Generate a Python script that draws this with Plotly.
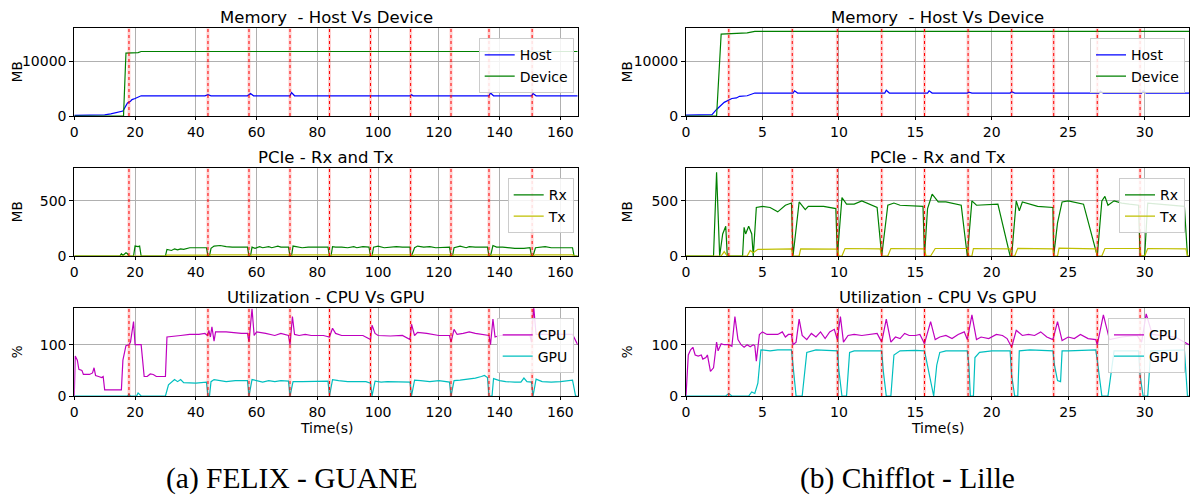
import plotly.graph_objects as go

# ---------------- DATA ----------------
# (a) FELIX - GUANE
a_host_t = [0, 5, 10, 12, 14, 16, 16.5, 17, 17.5, 18.5, 19, 20, 21, 22, 43, 44, 45, 57, 58, 59, 71, 71.5, 72.5,
            83.5, 84, 84.5, 97, 97.5, 98, 110.5, 111, 111.5, 136.5, 137, 138, 150.5, 151, 152, 165.7]
a_host = [100, 150, 200, 400, 650, 900, 1400, 2000, 2400, 2700, 3000, 3200, 3500, 3700, 3700, 3900, 3700, 3700,
          4100, 3700, 3700, 4300, 3700, 3700, 3800, 3700, 3700, 3800, 3700, 3700, 3900, 3700, 3700, 4200, 3700,
          3700, 4100, 3700, 3700]
a_dev_t = [0, 16.2, 17, 21, 22, 165.7]
a_dev = [0, 0, 11500, 11600, 11800, 11800]

a_rx_t = [0, 15, 15.5, 16, 17, 17.5, 18, 19.5, 20, 21, 21.5, 22, 30, 30.5, 32, 33, 34, 35, 36, 37, 38, 43.5, 44,
          44.5, 45, 46, 48, 50, 52, 57, 57.5, 58, 58.5, 59.5, 61, 62, 64, 65, 66, 67, 68, 70.5, 71,
          71.5, 72, 73, 75, 77, 80, 83.5, 84, 84.5, 85, 86, 88, 90, 92, 93, 95, 97, 97.5,
          98, 98.5, 100, 102, 104, 106, 108, 110.5, 110.7, 111, 112, 113, 115, 117, 119, 121, 123.5, 124,
          124.5, 125, 127, 129, 130, 132, 134, 136, 136.5, 137, 137.8, 139, 141, 143, 145, 148, 150, 150.5,
          151, 151.8, 153, 155, 157, 160, 164, 164.5, 165.7]
a_rx = [0, 0, 20, 5, 30, 20, 0, 0, 90, 85, 90, 0, 0, 60, 50, 65, 55, 65, 60, 70, 75, 75, 0,
        0, 70, 90, 95, 85, 80, 80, 0, 0, 80, 70, 85, 75, 85, 75, 80, 90, 80, 80, 0,
        0, 90, 85, 75, 80, 80, 80, 0, 0, 85, 80, 80, 75, 85, 75, 85, 80, 0,
        0, 80, 90, 75, 80, 85, 80, 80, 0, 0, 75, 90, 80, 85, 75, 80, 80, 0,
        0, 75, 90, 75, 85, 80, 80, 80, 0, 0, 95, 80, 80, 75, 70, 70, 75, 0,
        0, 75, 80, 85, 75, 75, 75, 0, 0]
a_tx_t = [0, 30, 30.5, 43.5, 44, 45, 57, 57.5, 58.5, 70.5, 71, 72, 83.5, 84, 85, 97, 97.5, 98.5, 110.5, 111, 112,
          123.5, 124, 125, 136, 136.5, 137.8, 150, 150.5, 151.8, 164, 164.5, 165.7]
a_tx = [0, 0, 8, 8, 0, 10, 10, 0, 10, 10, 0, 10, 10, 0, 10, 10, 0, 10, 10, 0, 10,
        10, 0, 10, 10, 0, 10, 10, 0, 10, 10, 0, 0]

a_cpu_t = [0, 0.3, 1, 1.5, 2.5, 3, 5, 6, 6.5, 7, 8, 9, 9.5, 10, 15.5, 16, 17, 18, 18.5, 19.5, 20, 22, 23, 24, 25,
           26, 27, 30, 30.5, 33, 35, 38, 41, 43, 43.8, 44.3, 44.8, 45.3, 46, 46.5, 50, 55, 57, 57.5, 58.5, 59.2,
           60, 63, 66, 68, 70.5, 71, 71.8, 72.5, 74, 76, 78, 82, 84, 85, 86, 88, 92, 95, 97.5, 98, 99, 100,
           104, 108, 110.5, 111, 112, 113, 116, 120, 123.5, 124, 125, 126, 128, 130, 132, 134, 136.5, 137,
           137.8, 138.5, 140, 145, 150, 150.5, 151.2, 152, 155, 160, 164, 165.7]
a_cpu = [0, 78, 70, 52, 50, 42, 42, 45, 55, 40, 38, 36, 38, 12, 12, 70, 98, 100, 105, 145, 100, 100, 38, 38, 43,
         42, 38, 38, 115, 116, 118, 120, 120, 122, 118, 128, 115, 135, 107, 125, 125, 122, 122, 106, 170, 118,
         125, 122, 118, 122, 118, 100, 155, 120, 118, 120, 118, 118, 115, 132, 122, 118, 118, 118, 110, 138, 122,
         118, 117, 118, 110, 140, 118, 124, 122, 118, 118, 105, 130, 120, 122, 125, 122, 120, 118, 100,
         150, 115, 118, 118, 118, 105, 175, 120, 120, 120, 120, 100]
a_gpu_t = [0, 17.5, 18, 18.5, 20.5, 21, 22, 30, 31, 33, 34, 35, 36, 38, 40, 43.5, 44, 44.5, 45, 46, 48, 50, 53,
           57, 57.5, 58.5, 60, 62, 64, 66, 68, 70.5, 71, 72, 75, 78, 80, 83.5, 84, 85, 87, 90, 93, 96, 97.5,
           98, 99, 101, 103, 105, 108, 110.5, 111, 112, 114, 117, 120, 123.5, 124, 125, 127, 130, 132, 134,
           135, 136, 136.5, 137.5, 138, 140, 142, 145, 147, 148, 149, 150.5, 151, 152, 154, 157, 160, 164,
           165, 165.7]
a_gpu = [0, 0, 3, 0, 0, 6, 0, 0, 22, 32, 28, 32, 26, 26, 25, 27, 0, 0, 28, 32, 30, 28, 30,
         30, 0, 32, 30, 27, 30, 28, 30, 29, 0, 28, 28, 28, 29, 29, 0, 32, 30, 28, 28, 28, 25,
         0, 29, 27, 28, 28, 28, 27, 0, 31, 30, 28, 30, 27, 0, 30, 31, 33, 35, 38,
         40, 36, 0, 0, 34, 30, 28, 27, 27, 35, 28, 27, 0, 33, 28, 27, 28, 31,
         0, 0]
a_events = [18, 44, 57.5, 71, 84, 97.5, 110.7, 124, 136.5, 150.7]

# (b) Chifflot - Lille
b_host_t = [0, 1.7, 2.0, 2.5, 3.0, 3.3, 3.5, 4.0, 4.5, 7.0, 7.1, 7.3, 13.0, 13.1, 13.3, 15.8, 15.9, 16.1, 18.4, 18.5,
            18.7, 21.2, 21.3, 21.5, 27.0, 27.1, 27.3, 29.8, 29.9, 30.1, 32.9]
b_host = [150, 250, 1200, 2500, 3200, 3300, 3600, 3700, 4200, 4200, 4600, 4200, 4200, 4700, 4200, 4200, 4600,
          4200, 4200, 4350, 4200, 4200, 4450, 4200, 4200, 4550, 4200, 4200, 4600, 4200, 4200]
b_dev_t = [0, 2.0, 2.3, 3.0, 4.0, 4.5, 32.9]
b_dev = [0, 0, 15000, 15100, 15200, 15500, 15500]

b_rx_t = [0, 1.8, 2.0, 2.2, 2.4, 2.6, 2.7, 3.7, 3.8, 3.9, 4.1, 4.3, 4.4, 4.6, 5.0, 5.5, 6.0, 6.5, 6.9, 7.0,
          7.4, 7.8, 8.0, 9.0, 9.8, 9.9, 10.2, 10.5, 11.0, 11.5, 12.5, 12.8, 13.2, 13.6, 14.0, 15.0, 15.5, 15.6,
          15.8, 16.1, 16.5, 17.0, 18.0, 18.4, 18.7, 19.0, 20.4, 21.2, 21.3, 21.6, 21.8, 22.0, 23.0, 24.0, 24.05,
          24.3, 24.6, 25.0, 26.0, 26.9, 27.2, 27.4, 27.6, 28.0, 28.5, 29.0, 29.6, 29.7, 30.0, 30.2, 31.0, 32.0,
          32.6, 32.8, 32.9]
b_rx = [0, 0, 760, 0, 200, 270, 0, 0, 260, 200, 270, 200, 0, 440, 450, 440, 400, 460, 480, 0,
        490, 420, 450, 450, 430, 0, 530, 470, 470, 500, 440, 0, 460, 480, 460, 450, 450, 0,
        430, 560, 490, 490, 460, 0, 500, 460, 470, 0, 0, 500, 410, 490, 450, 440, 0,
        300, 490, 500, 470, 0, 500, 540, 460, 500, 480, 470, 460, 0, 0, 480, 470, 460,
        450, 0, 0]
b_tx_t = [0, 2.3, 2.5, 2.7, 4.0, 4.2, 4.4, 4.7, 6.9, 7.0, 7.4, 7.5, 9.9, 10.0, 10.2, 10.4, 12.7, 12.8, 13.2, 13.4,
          15.6, 15.7, 16.0, 16.3, 18.4, 18.5, 18.7, 18.8, 21.2, 21.3, 21.5, 21.7, 24.0, 24.05, 24.3, 24.4, 26.8,
          26.9, 27.2, 27.4, 29.7, 29.75, 30.0, 30.2, 32.7, 32.8, 32.9]
b_tx = [0, 0, 40, 0, 0, 50, 30, 60, 65, 0, 0, 65, 62, 0, 0, 68, 65, 0, 0, 68,
        65, 0, 0, 68, 68, 0, 0, 68, 65, 0, 0, 70, 65, 0, 0, 72, 65,
        0, 0, 68, 68, 0, 0, 68, 65, 0, 0]

b_cpu_t = [0, 0.15, 0.3, 0.45, 0.6, 0.8, 1.0, 1.1, 1.3, 1.4, 1.6, 1.8, 1.9, 2.0, 2.1, 2.3, 2.5, 2.8, 3.0, 3.2,
           3.4, 3.6, 3.8, 4.0, 4.2, 4.4, 4.5, 4.6, 4.8, 5.0, 5.3, 6.0, 6.3, 6.5, 6.7, 6.9, 7.0, 7.2, 7.4, 7.6,
           7.9, 8.2, 8.5, 8.8, 9.1, 9.4, 9.7, 9.9, 10.1, 10.3, 10.6, 11.0, 11.5, 12.0, 12.5, 12.8, 13.1, 13.4,
           13.7, 14.0, 14.3, 14.6, 15.0, 15.3, 15.6, 16.0, 16.3, 16.6, 17.0, 17.4, 17.8, 18.2, 18.4, 18.7,
           19.0, 19.3, 19.8, 20.3, 20.7, 21.0, 21.3, 21.6, 22.0, 22.4, 22.8, 23.2, 23.6, 24.0, 24.3, 24.6,
           25.0, 25.4, 25.8, 26.3, 26.8, 26.9, 27.3, 27.7, 28.5, 29.5, 29.8, 30.1, 30.5, 32.0, 32.6, 32.9]
b_cpu = [0, 80, 90, 95, 80, 78, 80, 72, 75, 80, 48, 55, 80, 105, 88, 102, 100, 100, 97, 155,
         110, 100, 95, 100, 96, 100, 98, 68, 120, 125, 120, 120, 125, 115, 120, 120, 100, 105, 150, 118,
         110, 122, 115, 125, 112, 125, 130, 110, 155, 105, 118, 120, 118, 120, 122, 105, 150, 105,
         115, 112, 122, 118, 118, 120, 102, 145, 110, 115, 118, 112, 120, 125, 110, 158,
         110, 115, 112, 120, 118, 112, 95, 128, 118, 120, 118, 125, 115, 110, 145, 108,
         115, 112, 120, 112, 110, 100, 158, 110, 115, 118, 105, 160, 120, 115, 105, 100]
b_gpu_t = [0, 2.6, 2.8, 3.0, 4.1, 4.3, 4.5, 4.7, 4.9, 5.5, 6.0, 6.9, 7.0, 7.2, 7.6, 7.9, 8.5, 9.5, 9.9, 10.0, 10.2,
           10.5, 10.7, 11.0, 12.0, 12.8, 12.9, 13.1, 13.4, 13.6, 14.0, 15.0, 15.6, 15.8, 16.2, 16.4, 16.6, 17.0,
           18.4, 18.5, 18.6, 18.8, 18.9, 19.2, 20.0, 21.2, 21.3, 21.5, 21.7, 21.8, 22.5, 24.0, 24.1, 24.3,
           24.5, 24.6, 25.0, 26.8, 26.9, 27.2, 27.6, 28.0, 29.6, 29.7, 29.9, 30.2, 30.4, 32.6, 32.8, 32.9]
b_gpu = [0, 0, 5, 0, 0, 8, 5, 25, 90, 88, 90, 90, 60, 0, 0, 85, 90, 88, 88, 50, 0,
         0, 85, 88, 88, 88, 50, 0, 0, 80, 88, 89, 88, 60, 0, 60, 85, 88,
         88, 60, 0, 0, 75, 85, 88, 88, 40, 0, 0, 88, 90, 88, 60, 30,
         28, 88, 88, 90, 70, 0, 0, 88, 88, 40, 0, 0, 88, 90, 0, 0]
b_events = [2.8, 6.95, 9.9, 12.8, 15.6, 18.45, 21.3, 24.05, 26.9, 29.7]

panel_titles = ["Memory\u00a0 - Host Vs Device", "PCIe - Rx and Tx", "Utilization - CPU Vs GPU"]
y_titles = ["MB", "MB", "%"]
x_title = "Time(s)"
captions = ["(a) FELIX - GUANE", "(b) Chifflot - Lille"]

# ---------------- LAYOUT ----------------
W, H = 1190, 495
FONT = "DejaVu Sans"
col_x = [(74.3, 577.7), (686.0, 1189.0)]
row_top = [28.3, 168.3, 308.3]
ph = 87.7
x_ranges = [[0, 165.7], [0, 32.9]]
x_dticks = [20, 5]
y_ranges = [[0, 16050], [0, 795], [0, 171]]
y_ticks = [[0, 10000], [0, 500], [0, 100]]

series = [
    [
        [("Host", a_host_t, a_host, "#0000ff"), ("Device", a_dev_t, a_dev, "#008000")],
        [("Rx", a_rx_t, a_rx, "#008000"), ("Tx", a_tx_t, a_tx, "#bfbf00")],
        [("CPU", a_cpu_t, a_cpu, "#bf00bf"), ("GPU", a_gpu_t, a_gpu, "#00bfbf")],
    ],
    [
        [("Host", b_host_t, b_host, "#0000ff"), ("Device", b_dev_t, b_dev, "#008000")],
        [("Rx", b_rx_t, b_rx, "#008000"), ("Tx", b_tx_t, b_tx, "#bfbf00")],
        [("CPU", b_cpu_t, b_cpu, "#bf00bf"), ("GPU", b_gpu_t, b_gpu, "#00bfbf")],
    ],
]
events = [a_events, b_events]

fig = go.Figure()
annotations = []
shapes = []
layout = {}

idx = 0
for c in range(2):
    x0, x1 = col_x[c]
    for r in range(3):
        idx += 1
        sfx = "" if idx == 1 else str(idx)
        top = row_top[r]
        bot = top + ph
        xa = dict(
            domain=[x0 / W, x1 / W], range=x_ranges[c], dtick=x_dticks[c], tick0=0,
            anchor="y" + sfx, showgrid=True, gridcolor="#b0b0b0", gridwidth=1,
            showline=True, linecolor="black", linewidth=1, mirror=True,
            ticks="outside", ticklen=3, tickcolor="black", automargin=False,
            tickfont=dict(family=FONT, size=14, color="black"), zeroline=False,
        )
        ya = dict(
            domain=[1 - bot / H, 1 - top / H], range=y_ranges[r], tickvals=y_ticks[r],
            ticktext=[str(v) for v in y_ticks[r]],
            anchor="x" + sfx, showgrid=True, gridcolor="#b0b0b0", gridwidth=1,
            showline=True, linecolor="black", linewidth=1, mirror=True,
            ticks="outside", ticklen=4, tickcolor="black", automargin=False,
            tickfont=dict(family=FONT, size=14, color="black"), zeroline=False,
        )
        layout["xaxis" + sfx] = xa
        layout["yaxis" + sfx] = ya
        lg = "legend" + sfx
        layout[lg] = dict(
            x=(x1 - 4) / W, y=1 - (top + 10) / H, xanchor="right", yanchor="top",
            xref="paper", yref="paper",
            bgcolor="rgba(255,255,255,0.85)", bordercolor="#cccccc", borderwidth=1,
            font=dict(family=FONT, size=14, color="black"), itemwidth=30,
            tracegroupgap=0,
        )
        for ev in events[c]:
            shapes.append(dict(type="line", xref="x" + sfx, yref="y" + sfx + " domain",
                               x0=ev, x1=ev, y0=0, y1=1,
                               line=dict(color="rgba(255,0,0,0.18)", width=3), layer="above"))
            shapes.append(dict(type="line", xref="x" + sfx, yref="y" + sfx + " domain",
                               x0=ev, x1=ev, y0=0, y1=1,
                               line=dict(color="red", width=1, dash="dot"), layer="above"))
        for name, tt, vv, col in series[c][r]:
            fig.add_trace(go.Scatter(
                x=tt, y=vv, mode="lines", name=name, line=dict(color=col, width=1.2),
                xaxis="x" + sfx, yaxis="y" + sfx, legend=lg, showlegend=True,
            ))
        annotations.append(dict(
            text=panel_titles[r], x=(x0 + x1) / 2 / W, y=1 - (top - 10.5) / H,
            xref="paper", yref="paper", xanchor="center", yanchor="middle", showarrow=False,
            font=dict(family=FONT, size=16.5, color="black"),
        ))
        annotations.append(dict(
            text=y_titles[r], x=(17 if c == 0 else 627) / W, y=1 - (top + ph / 2) / H,
            xref="paper", yref="paper", xanchor="center", yanchor="middle", showarrow=False,
            textangle=-90, font=dict(family=FONT, size=13.5, color="black"),
        ))
        if r == 2:
            annotations.append(dict(
                text=x_title, x=(x0 + x1) / 2 / W, y=1 - 428 / H,
                xref="paper", yref="paper", xanchor="center", yanchor="middle", showarrow=False,
                font=dict(family=FONT, size=14, color="black"),
            ))

for c, cx in enumerate([291.5, 907]):
    annotations.append(dict(
        text=captions[c], x=cx / W, y=1 - 478 / H, xref="paper", yref="paper",
        xanchor="center", yanchor="middle", showarrow=False,
        font=dict(family="Liberation Serif", size=29.5, color="black"),
    ))

fig.update_layout(
    width=W, height=H, margin=dict(l=0, r=0, t=0, b=0, autoexpand=False),
    paper_bgcolor="white", plot_bgcolor="white",
    annotations=annotations, shapes=shapes, **layout,
)

fig.write_html(
    "out.html",
    config={"displayModeBar": False},
    post_script="document.body.style.margin='0';document.body.style.padding='0';"
                "document.body.style.overflow='hidden';",
)
